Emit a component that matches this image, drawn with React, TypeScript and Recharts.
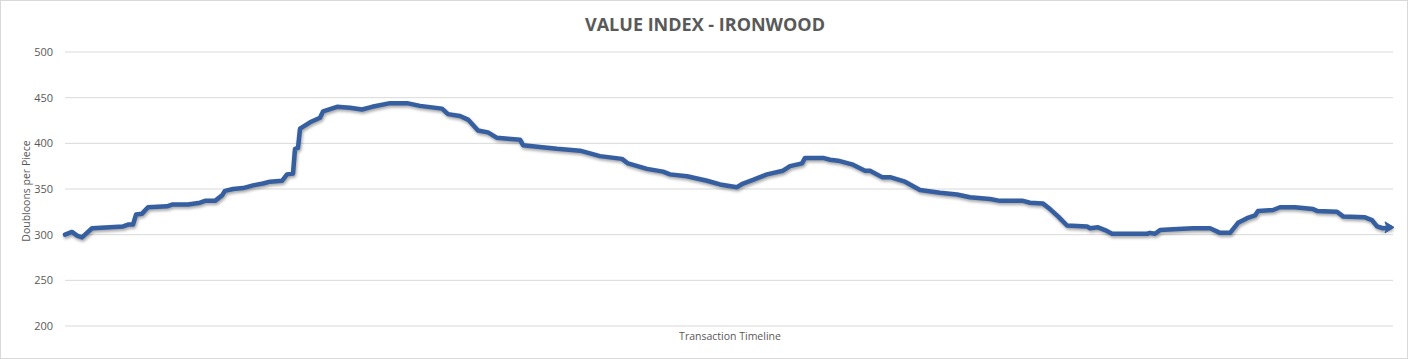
import React from "react";
import { LineChart, Line, XAxis, YAxis, CartesianGrid } from "recharts";

// Transaction index (position along the timeline) and value
const timeline: number[] = [
  0, 7, 12, 17, 20, 27, 45, 58, 63, 68, 71, 77, 83, 102, 107, 123, 135, 140, 150, 157,
  160, 168, 178, 188, 198, 205, 217, 222, 228, 230, 233, 235, 245, 255, 258, 272, 285, 297, 307, 325,
  342, 355, 377, 383, 395, 403, 413, 423, 432, 443, 455, 458, 475, 492, 515, 535, 557, 563, 582, 598,
  605, 622, 642, 655, 672, 678, 688, 702, 718, 725, 737, 740, 758, 765, 773, 787, 800, 805, 817, 825,
  840, 855, 875, 892, 905, 925, 935, 958, 965, 978, 985, 993, 1002, 1022, 1025, 1033, 1040, 1047, 1082, 1085,
  1090, 1095, 1108, 1128, 1145, 1155, 1165, 1173, 1182, 1190, 1193, 1208, 1215, 1230, 1248, 1252, 1272, 1278, 1300, 1307,
  1312, 1318, 1325,
];
const values: number[] = [
  300, 303, 299, 297, 300, 307, 308, 309, 311, 311, 322, 323, 330, 331, 333, 333, 335, 337, 337, 343,
  348, 350, 351, 354, 356, 358, 359, 366, 367, 394, 395, 416, 423, 428, 435, 440, 439, 437, 440, 444,
  444, 441, 438, 432, 430, 426, 414, 412, 406, 405, 404, 398, 396, 394, 392, 386, 383, 378, 372, 369,
  366, 364, 359, 355, 352, 356, 360, 366, 370, 375, 378, 384, 384, 382, 381, 377, 370, 370, 363, 363,
  358, 349, 346, 344, 341, 339, 337, 337, 335, 334, 328, 320, 310, 309, 307, 308, 305, 301, 301, 302,
  301, 305, 306, 307, 307, 302, 302, 313, 318, 321, 326, 327, 330, 330, 328, 326, 325, 320, 319, 316,
  309, 307, 308,
];
const yTicks: number[] = [200, 250, 300, 350, 400, 450, 500];

const chartTitle = "VALUE INDEX - IRONWOOD";
const yTitle = "Doubloons per Piece";
const xTitle = "Transaction Timeline";

const data = timeline.map((t, i) => ({ t, v: values[i] }));

const LINE_COLOR = "#355FA0";
const FONT = "'Open Sans', 'Noto Sans', sans-serif";

const ArrowDot = (props: any) => {
  const { cx, cy, index } = props;
  if (index !== data.length - 1 || cx == null || cy == null) return <g key={`d${index}`} />;
  return (
    <path
      key={`d${index}`}
      d={`M ${cx + 4} ${cy} L ${cx - 5} ${cy - 5.5} L ${cx - 3} ${cy} L ${cx - 5} ${cy + 5.5} Z`}
      fill={LINE_COLOR}
      stroke={LINE_COLOR}
      strokeWidth={1}
      strokeLinejoin="round"
    />
  );
};

export default function App() {
  return (
    <div
      style={{
        position: "absolute",
        left: 0,
        top: 0,
        width: 1408,
        height: 359,
        boxSizing: "border-box",
        border: "1px solid #d9d9d9",
        background: "#fff",
        fontFamily: FONT,
        overflow: "hidden",
      }}
    >
      <style>{`.recharts-line { filter: drop-shadow(1px 2px 1.5px rgba(0,0,0,0.35)); }`}</style>
      <div
        style={{
          position: "absolute",
          left: 0,
          width: 1408,
          top: 10,
          textAlign: "center",
          fontWeight: 700,
          fontSize: 18,
          color: "#595959",
          lineHeight: "26px",
        }}
      >
        {chartTitle}
      </div>
      <div
        style={{
          position: "absolute",
          left: 25 - 80,
          top: 190 - 8,
          width: 160,
          height: 16,
          lineHeight: "16px",
          textAlign: "center",
          transform: "rotate(-90deg)",
          fontSize: 10.5,
          color: "#595959",
        }}
      >
        {yTitle}
      </div>
      <div
        style={{
          position: "absolute",
          left: 729 - 100,
          width: 200,
          top: 327,
          textAlign: "center",
          fontSize: 10.5,
          color: "#595959",
          lineHeight: "16px",
        }}
      >
        {xTitle}
      </div>
      <div style={{ position: "absolute", left: -1, top: -1 }}>
        <LineChart
          width={1408}
          height={359}
          data={data}
          margin={{ top: 52, right: 15, bottom: 33, left: 15 }}
        >
          <CartesianGrid vertical={false} stroke="#d9d9d9" strokeWidth={1} />
          <XAxis dataKey="t" type="number" domain={[0, 1328]} hide />
          <YAxis
            type="number"
            domain={[200, 500]}
            ticks={yTicks}
            width={50}
            axisLine={false}
            tickLine={false}
            tickSize={0}
            tickMargin={12}
            tick={{ fill: "#595959", fontSize: 11, fontFamily: FONT }}
          />
          <Line
            type="linear"
            dataKey="v"
            stroke={LINE_COLOR}
            strokeWidth={4.5}
            strokeLinejoin="round"
            strokeLinecap="round"
            dot={ArrowDot}
            activeDot={false}
            isAnimationActive={false}
          />
        </LineChart>
      </div>
    </div>
  );
}
